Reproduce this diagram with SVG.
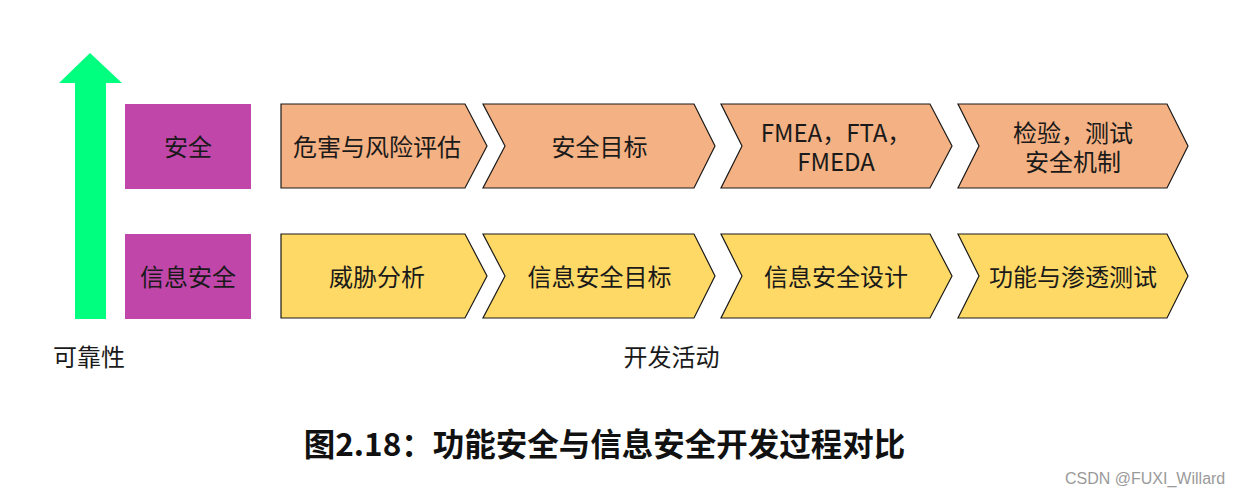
<svg xmlns="http://www.w3.org/2000/svg" width="1241" height="497" viewBox="0 0 1241 497">
<style>
.t{font-family:"Noto Sans CJK SC","Liberation Sans",sans-serif;font-size:24px;fill:#1a1a1a;text-anchor:middle}
.sf{fill:#F4B183;stroke:#1a1a1a;stroke-width:1.2}
.sec{fill:#FFD966;stroke:#1a1a1a;stroke-width:1.2}
.cat{fill:#C146AA}
</style>
<rect width="1241" height="497" fill="#ffffff"/>
<g id="reliability-arrow">
<path d="M75,319 V83 H59 L90,53 L122,83 H106 V319 Z" fill="#00FF7F"/>
</g>
<g id="cat-safety"><rect class="cat" x="125" y="104" width="126" height="85"/><text class="t" x="188" y="156">安全</text></g>
<g id="cat-security"><rect class="cat" x="125" y="234" width="126" height="85"/><text class="t" x="188" y="286">信息安全</text></g>
<g id="s1"><path class="sf" d="M281,104 H465 L487,146 L465,188 H281 Z"/><text class="t" x="377" y="156">危害与风险评估</text></g>
<g id="s2"><path class="sf" d="M483,104 H694 L715,146 L694,188 H483 L505,146 Z"/><text class="t" x="599.5" y="156">安全目标</text></g>
<g id="s3"><path class="sf" d="M721,104 H930 L952,146 L930,188 H721 L742,146 Z"/><text class="t" x="836" y="142"><tspan x="836">FMEA，FTA，</tspan><tspan x="836" dy="28.5">FMEDA</tspan></text></g>
<g id="s4"><path class="sf" d="M958,104 H1167 L1188,146 L1167,188 H958 L979,146 Z"/><text class="t" x="1073" y="142"><tspan x="1073">检验，测试</tspan><tspan x="1073" dy="28.5">安全机制</tspan></text></g>
<g id="c1"><path class="sec" d="M281,234 H465 L487,276 L465,318 H281 Z"/><text class="t" x="377" y="286">威胁分析</text></g>
<g id="c2"><path class="sec" d="M483,234 H694 L715,276 L694,318 H483 L505,276 Z"/><text class="t" x="599.5" y="286">信息安全目标</text></g>
<g id="c3"><path class="sec" d="M721,234 H930 L952,276 L930,318 H721 L742,276 Z"/><text class="t" x="836" y="286">信息安全设计</text></g>
<g id="c4"><path class="sec" d="M958,234 H1167 L1188,276 L1167,318 H958 L979,276 Z"/><text class="t" x="1073" y="286">功能与渗透测试</text></g>
<g id="connectors"></g>
<text class="t" x="89" y="366">可靠性</text>
<text class="t" x="671.5" y="366">开发活动</text>
<text x="604.5" y="456" font-family="'Noto Sans CJK SC','Liberation Sans',sans-serif" font-size="31.5" font-weight="bold" fill="#111" text-anchor="middle">图2.18：功能安全与信息安全开发过程对比</text>
<text x="1065" y="484" font-family="'Liberation Sans',Arial,sans-serif" font-size="16" fill="#9a9a9a">CSDN @FUXI_Willard</text>
</svg>
